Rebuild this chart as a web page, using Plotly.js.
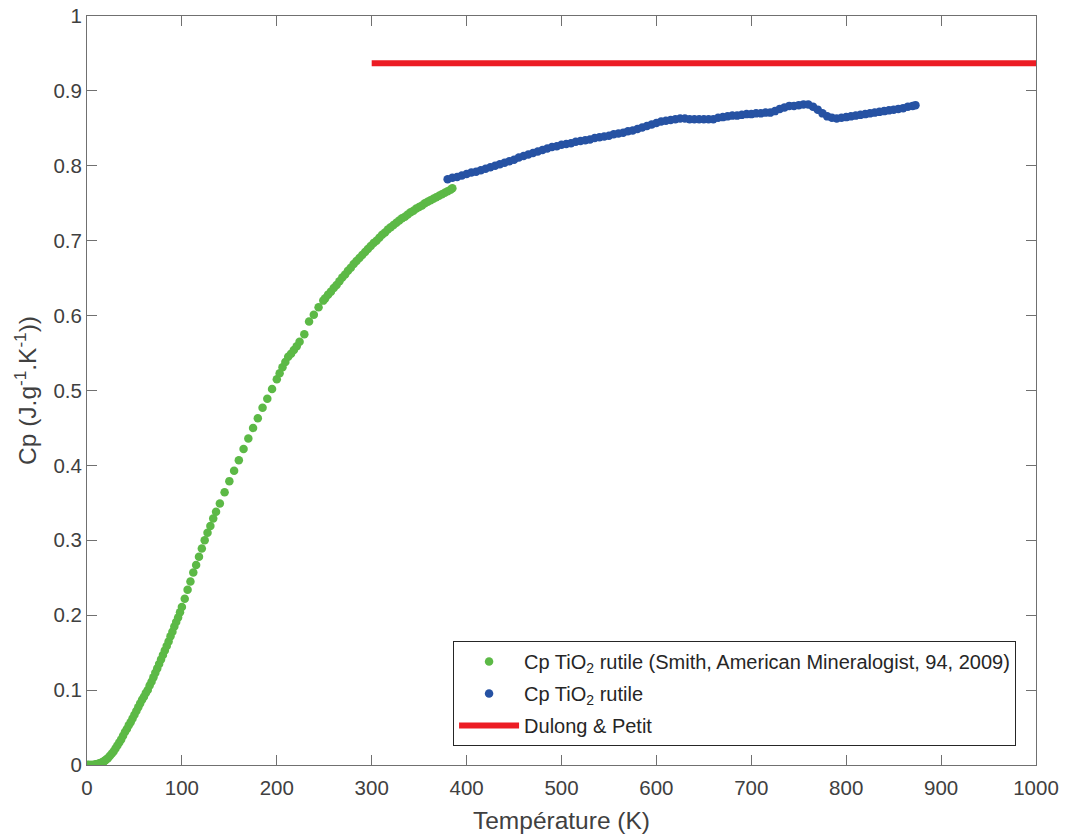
<!DOCTYPE html>
<html>
<head>
<meta charset="utf-8">
<script src="https://cdn.plot.ly/plotly-3.0.1.min.js"></script>
<style>html,body{margin:0;padding:0;background:#fff;}#chart{width:1065px;height:836px;}</style>
</head>
<body>
<div id="chart"></div>
<script>
// Smith (2009) reference data
const smithT = [0.5,1,1.5,2,3,4,5,6,7,8,9,10,11,12,13,14,15,16,17,18,19,20,22,24,26,28,30,32,34,36,38,40,
  42,44,46,48,50,52,54,56,58,60,62,64,66,68,70,72,74,76,78,80,82,84,86,88,90,92,94,96,98,100,
  103,106,109,112,115,118,121,124,127,130,133,136,140,145,150,155,160,165,170,175,180,185,190,195,200,
  203,206,209,212,215,218,221,224,229,234,239,244,249,
  251,254,257,260,263,266,269,272,275,278,281,284,287,290,293,296,299,302,305,308,311,314,317,320,
  323,326,329,332,335,338,341,344,347,350,353,356,359,362,365,368,371,374,377,380,383,385];
const smithCp = [0,0,0,0,0,0,0,0,0,0.0005,0.0007,0.001,0.0012,0.0015,0.002,0.0025,0.003,0.0035,0.004,0.005,0.006,0.007,0.009,0.012,0.015,0.018,0.022,0.026,0.030,0.034,0.039,0.044,
  0.048,0.053,0.057,0.062,0.067,0.072,0.077,0.082,0.087,0.091,0.096,0.100,0.106,0.111,0.117,0.123,0.129,0.135,0.141,0.147,0.153,0.159,0.165,0.172,0.178,0.185,0.191,0.197,0.204,0.211,
  0.222,0.234,0.245,0.257,0.267,0.278,0.289,0.300,0.310,0.319,0.329,0.338,0.349,0.364,0.379,0.393,0.407,0.422,0.436,0.450,0.463,0.477,0.489,0.502,0.515,
  0.523,0.531,0.538,0.545,0.549,0.554,0.559,0.565,0.575,0.592,0.601,0.611,0.620,
  0.623,0.628,0.632,0.637,0.641,0.646,0.651,0.655,0.660,0.664,0.669,0.673,0.677,0.681,0.685,0.689,0.693,0.697,0.700,0.704,0.708,0.711,0.715,0.718,
  0.721,0.724,0.727,0.730,0.732,0.735,0.738,0.740,0.743,0.745,0.747,0.750,0.752,0.754,0.756,0.758,0.760,0.762,0.764,0.766,0.768,0.770];

// Measured rutile data
const measT = [380,385,390,395,400,405,410,415,420,425,430,435,440,445,450,455,460,465,470,475,480,485,490,495,500,
  505,510,515,520,525,530,535,540,545,550,555,560,565,570,575,580,585,590,595,600,605,610,615,620,625,630,635,640,645,650,655,660,
  665,670,675,680,685,690,695,700,705,710,715,720,725,730,735,740,745,750,755,760,765,770,775,780,785,790,795,800,
  805,810,815,820,825,830,835,840,845,850,855,860,865,870,873];
const measCp = [0.782,0.784,0.785,0.787,0.789,0.791,0.792,0.794,0.796,0.798,0.800,0.802,0.804,0.806,0.808,0.811,0.813,0.815,0.817,0.819,0.821,0.823,0.825,0.826,0.828,
  0.829,0.830,0.832,0.833,0.834,0.835,0.837,0.838,0.839,0.840,0.842,0.843,0.844,0.846,0.847,0.849,0.851,0.853,0.855,0.857,0.859,0.860,0.861,0.862,0.863,0.863,0.862,0.862,0.862,0.862,0.862,0.862,
  0.864,0.865,0.866,0.867,0.867,0.868,0.869,0.869,0.870,0.870,0.871,0.871,0.873,0.876,0.878,0.880,0.880,0.881,0.882,0.882,0.879,0.875,0.870,0.866,0.864,0.863,0.864,0.865,
  0.866,0.867,0.868,0.869,0.870,0.871,0.872,0.873,0.874,0.875,0.876,0.877,0.879,0.880,0.881];

// Dulong & Petit limit
const dpT = [300, 1000];
const dpCp = [0.9368, 0.9368];

const xTicks = [0,100,200,300,400,500,600,700,800,900,1000];
const yTicks = [0,0.1,0.2,0.3,0.4,0.5,0.6,0.7,0.8,0.9,1];

const FONT = '"Liberation Sans", Arial, Helvetica, sans-serif';

const traces = [
  {x: smithT, y: smithCp, mode: 'markers', type: 'scatter',
   name: 'Cp TiO<sub>2</sub> rutile (Smith, American Mineralogist, 94, 2009)',
   legendgroup: 'a',
   marker: {color: '#5cb946', size: 8.5}},
  {x: measT, y: measCp, mode: 'markers', type: 'scatter',
   name: 'Cp TiO<sub>2</sub> rutile',
   legendgroup: 'b',
   marker: {color: '#2652a3', size: 8.5}},
  {x: dpT, y: dpCp, mode: 'lines', type: 'scatter',
   name: 'Dulong & Petit',
   legendgroup: 'c',
   line: {color: '#ec1c24', width: 6}}
];

const axisCommon = {
  showline: true, mirror: 'ticks', linecolor: '#707070', linewidth: 1,
  ticks: 'inside', ticklen: 10, tickcolor: '#707070', tickwidth: 1,
  showgrid: false, zeroline: false,
  tickfont: {family: FONT, size: 20.5, color: '#404040'}
};

const layout = {
  width: 1065, height: 836,
  margin: {l: 87, r: 29, t: 16, b: 71},
  paper_bgcolor: '#ffffff', plot_bgcolor: '#ffffff',
  font: {family: FONT, color: '#404040'},
  showlegend: true,
  xaxis: Object.assign({}, axisCommon, {
    range: [0, 1000], tickvals: xTicks, ticktext: xTicks.map(String),
    ticklabelstandoff: 4,
    title: {text: 'Température (K)', font: {family: FONT, size: 24.5, color: '#404040'}, standoff: 14}
  }),
  yaxis: Object.assign({}, axisCommon, {
    range: [0, 1], tickvals: yTicks, ticktext: yTicks.map(String),
    title: {text: 'Cp (J.g<sup>-1</sup>.K<sup>-1</sup>))', font: {family: FONT, size: 24.5, color: '#404040'}, standoff: 9}
  }),
  legend: {
    x: 0.979, xanchor: 'right', y: 0.1656, yanchor: 'top',
    bgcolor: '#ffffff', bordercolor: '#262626', borderwidth: 1,
    font: {family: FONT, size: 20, color: '#262626'},
    itemwidth: 60,
    tracegroupgap: 3
  }
};

Plotly.newPlot('chart', traces, layout, {displayModeBar: false, staticPlot: true});
</script>
</body>
</html>
